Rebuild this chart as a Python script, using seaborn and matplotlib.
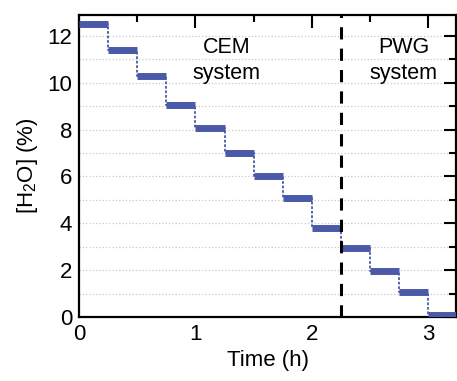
import numpy as np
import pandas as pd
import matplotlib
matplotlib.use("Agg")
import matplotlib.pyplot as plt
import seaborn as sns
from matplotlib.ticker import MultipleLocator

# Step levels of the water concentration (one level per 15 min)
step_start_h = [0.0, 0.25, 0.5, 0.75, 1.0, 1.25, 1.5, 1.75, 2.0, 2.25, 2.5, 2.75, 3.0, 3.25]
h2o_level = [12.5, 11.4, 10.3, 9.05, 8.05, 7.0, 6.0, 5.1, 3.8, 2.95, 1.95, 1.05, 0.1, 0.1]
switch_time_h = 2.25

df = pd.DataFrame({"Time": step_start_h, "H2O": h2o_level})

sns.set_theme(style="white")
plt.rcParams["font.family"] = ["Liberation Sans", "DejaVu Sans"]
plt.rcParams["mathtext.fontset"] = "custom"
plt.rcParams["mathtext.rm"] = "Liberation Sans"
plt.rcParams["text.color"] = "black"
plt.rcParams["axes.labelcolor"] = "black"
plt.rcParams["xtick.labelcolor"] = "black"
plt.rcParams["ytick.labelcolor"] = "black"

fig, ax = plt.subplots(figsize=(4.57, 3.81), dpi=100)
fig.subplots_adjust(left=0.173, right=0.998, bottom=0.168, top=0.961)

line_color = "#4a5aa8"
# thin connectors between levels
sns.lineplot(data=df, x="Time", y="H2O", drawstyle="steps-post",
             color=line_color, linewidth=1.3, linestyle=(0, (1.5, 1)), ax=ax)
# the noisy plateaus drawn as thick bands
ax.hlines(df["H2O"][:-1], df["Time"][:-1], df["Time"][1:],
          color=line_color, linewidth=5, zorder=3)

ax.axvline(switch_time_h, color="black", linestyle=(0, (4, 3)), linewidth=2.2, zorder=4)

ax.text(1.265, 11.5, "CEM", ha="center", va="center", fontsize=15.5)
ax.text(1.265, 10.4, "system", ha="center", va="center", fontsize=15.5)
ax.text(2.79, 11.5, "PWG", ha="center", va="center", fontsize=15.5)
ax.text(2.79, 10.4, "system", ha="center", va="center", fontsize=15.5)

ax.set_xlim(0, 3.24)
ax.set_ylim(0, 12.9)
ax.xaxis.set_major_locator(MultipleLocator(1))
ax.xaxis.set_minor_locator(MultipleLocator(0.5))
ax.yaxis.set_major_locator(MultipleLocator(2))
ax.yaxis.set_minor_locator(MultipleLocator(1))

ax.grid(True, which="both", axis="y", color="#c8c8c8", linestyle=":", linewidth=0.9)
ax.set_axisbelow(True)

ax.tick_params(which="both", direction="in", top=True, right=True, width=1.5, color="black")
ax.tick_params(which="major", length=9, labelsize=16, pad=5)
ax.tick_params(which="minor", length=5)
for s in ax.spines.values():
    s.set_color("black")
    s.set_linewidth(1.6)

ax.set_xlabel("Time (h)", fontsize=16, labelpad=4)
ax.set_ylabel("[H$_\\mathregular{2}$O] (%)", fontsize=16, labelpad=5)

fig.savefig("out.png", dpi=100)
